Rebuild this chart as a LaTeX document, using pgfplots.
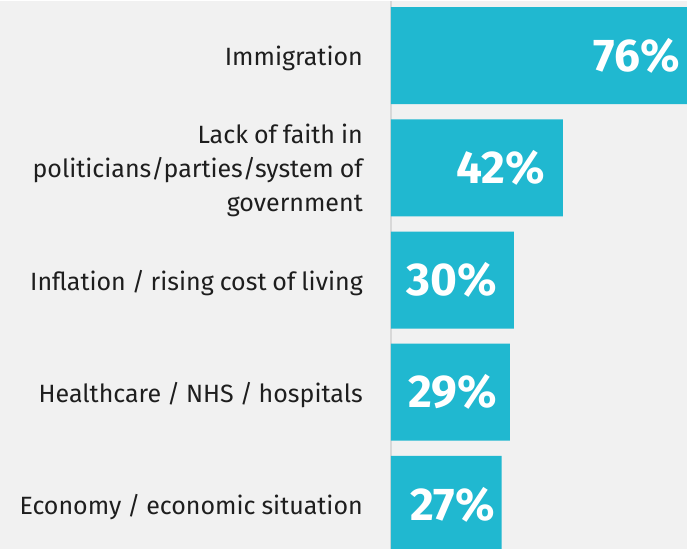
\documentclass[border=0pt]{standalone}
\usepackage{pgfplots}
\pgfplotsset{compat=1.18}
\usepackage{fontspec}
\setmainfont[WordSpace=0.9]{Fira Sans}
\usetikzlibrary{backgrounds}
\definecolor{barc}{HTML}{20B8D0}
\definecolor{bg}{HTML}{F1F1F1}
\definecolor{axc}{HTML}{D8D8D8}
\definecolor{txt}{HTML}{1E1E1E}
\begin{document}
\begin{tikzpicture}
\begin{axis}[
  width=296pt, height=548pt, scale only axis,
  xmin=0, xmax=72.28, ymin=-0.397, ymax=4.487,
  hide x axis, axis y line*=left,
  y axis line style={draw=axc, line width=2pt, -},
  ytick={0,1,2,3,4},
  yticklabels={Economy / economic situation, Healthcare / NHS / hospitals, Inflation / rising cost of living, {Lack of faith in\\politicians/parties/system of\\government}, Immigration},
  yticklabel style={align=right, font=\fontsize{25}{34}\selectfont, text=txt, inner sep=0pt, xshift=-28pt, yshift=-3pt},
  major tick length=0pt, ytick style={draw=none},
  clip=true,
]
\addplot[xbar, bar width=97pt, bar shift=0pt, fill=barc, draw=none] coordinates {(27,0) (29,1) (30,2) (42,3) (76,4)};
\addplot[only marks, mark=none, nodes near coords={\pgfplotspointmeta\%}, point meta=explicit symbolic,
  nodes near coords style={anchor=east, text=white, font=\fontsize{46}{46}\bfseries\selectfont, inner sep=0pt}]
  table[meta=label] {
x y label
25.5 0 27
25.9 1 29
25.9 2 30
37.6 3 42
70.6 4 76
};
\end{axis}
\begin{scope}[on background layer]
\fill[bg] ([xshift=-391pt]current axis.south west) rectangle (current axis.north east);
\end{scope}
\end{tikzpicture}
\end{document}
